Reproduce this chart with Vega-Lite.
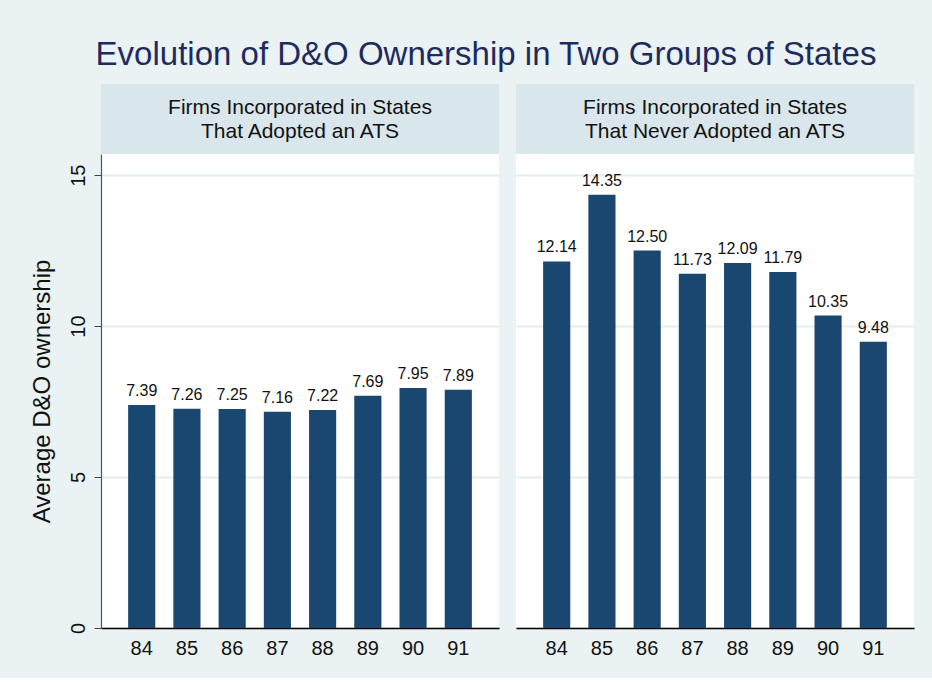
{
  "$schema": "https://vega.github.io/schema/vega-lite/v6.json",
  "background": "#EAF2F3",
  "padding": {"left": 30, "top": 39, "right": 19, "bottom": 20},
  "autosize": {"type": "pad"},
  "title": {"text": "Evolution of D&O Ownership in Two Groups of States", "fontSize": 33, "font": "Liberation Sans", "fontWeight": "normal", "color": "#1E2B5C", "anchor": "middle", "offset": 12, "dx": 14},
  "datasets": {
    "headers": [
      {"panel": "A", "label": "Firms Incorporated in States\nThat Adopted an ATS"},
      {"panel": "N", "label": "Firms Incorporated in States\nThat Never Adopted an ATS"}
    ],
    "bars": [
      {"panel": "A", "year": "84", "value": 7.39},
      {"panel": "A", "year": "85", "value": 7.26},
      {"panel": "A", "year": "86", "value": 7.25},
      {"panel": "A", "year": "87", "value": 7.16},
      {"panel": "A", "year": "88", "value": 7.22},
      {"panel": "A", "year": "89", "value": 7.69},
      {"panel": "A", "year": "90", "value": 7.95},
      {"panel": "A", "year": "91", "value": 7.89},
      {"panel": "N", "year": "84", "value": 12.14},
      {"panel": "N", "year": "85", "value": 14.35},
      {"panel": "N", "year": "86", "value": 12.50},
      {"panel": "N", "year": "87", "value": 11.73},
      {"panel": "N", "year": "88", "value": 12.09},
      {"panel": "N", "year": "89", "value": 11.79},
      {"panel": "N", "year": "90", "value": 10.35},
      {"panel": "N", "year": "91", "value": 9.48}
    ]
  },
  "spacing": 17,
  "hconcat": [
    {
      "spacing": 0,
      "bounds": "flush",
      "vconcat": [
        {
          "data": {"name": "headers"},
          "transform": [{"filter": "datum.panel === 'A'"}],
          "width": 398, "height": 70,
          "view": {"fill": "#D9E6EB", "stroke": null},
          "mark": {"type": "text", "lineBreak": "\n", "fontSize": 21, "lineHeight": 24, "font": "Liberation Sans", "color": "#111111", "baseline": "middle", "dy": -11},
          "encoding": {"text": {"field": "label"}}
        },
        {
          "data": {"name": "bars"},
          "transform": [{"filter": "datum.panel === 'A'"}],
          "width": 398, "height": 474,
          "view": {"fill": "white", "stroke": null},
          "encoding": {
            "x": {"field": "year", "type": "ordinal", "scale": {"paddingInner": 0.4, "paddingOuter": 0.6},
                  "axis": {"title": null, "labelAngle": 0, "ticks": false, "domainColor": "#000000", "domainWidth": 1.5, "labelFontSize": 20, "labelPadding": 10, "labelColor": "#111111", "labelFont": "Liberation Sans"}},
            "y": {"field": "value", "type": "quantitative", "scale": {"domain": [0, 15.7], "nice": false},
                  "axis": {"title": "Average D&O ownership", "titleFontSize": 24, "titleFont": "Liberation Sans", "titleFontWeight": "normal", "titleColor": "#111111", "titlePadding": 14,
                           "values": [0, 5, 10, 15], "labelAngle": -90, "labelFontSize": 20, "labelFont": "Liberation Sans", "labelColor": "#111111", "labelPadding": 6,
                           "tickSize": 7, "tickColor": "#444444", "domainColor": "#555555", "domainWidth": 1.2,
                           "grid": true, "gridColor": "#E3EDF0", "gridWidth": 2}}
          },
          "layer": [
            {"mark": {"type": "bar", "color": "#1A476F"}},
            {"mark": {"type": "text", "dy": -9, "baseline": "alphabetic", "fontSize": 16, "font": "Liberation Sans", "color": "#111111"},
             "encoding": {"text": {"field": "value", "type": "quantitative", "format": ".2f"}}}
          ]
        }
      ]
    },
    {
      "spacing": 0,
      "bounds": "flush",
      "vconcat": [
        {
          "data": {"name": "headers"},
          "transform": [{"filter": "datum.panel === 'N'"}],
          "width": 398, "height": 70,
          "view": {"fill": "#D9E6EB", "stroke": null},
          "mark": {"type": "text", "lineBreak": "\n", "fontSize": 21, "lineHeight": 24, "font": "Liberation Sans", "color": "#111111", "baseline": "middle", "dy": -11},
          "encoding": {"text": {"field": "label"}}
        },
        {
          "data": {"name": "bars"},
          "transform": [{"filter": "datum.panel === 'N'"}],
          "width": 398, "height": 474,
          "view": {"fill": "white", "stroke": null},
          "encoding": {
            "x": {"field": "year", "type": "ordinal", "scale": {"paddingInner": 0.4, "paddingOuter": 0.6},
                  "axis": {"title": null, "labelAngle": 0, "ticks": false, "domainColor": "#000000", "domainWidth": 1.5, "labelFontSize": 20, "labelPadding": 10, "labelColor": "#111111", "labelFont": "Liberation Sans"}},
            "y": {"field": "value", "type": "quantitative", "scale": {"domain": [0, 15.7], "nice": false},
                  "axis": {"title": null, "values": [0, 5, 10, 15], "labels": false, "ticks": false, "domain": false,
                           "grid": true, "gridColor": "#E3EDF0", "gridWidth": 2}}
          },
          "layer": [
            {"mark": {"type": "bar", "color": "#1A476F"}},
            {"mark": {"type": "text", "dy": -9, "baseline": "alphabetic", "fontSize": 16, "font": "Liberation Sans", "color": "#111111"},
             "encoding": {"text": {"field": "value", "type": "quantitative", "format": ".2f"}}}
          ]
        }
      ]
    }
  ]
}
